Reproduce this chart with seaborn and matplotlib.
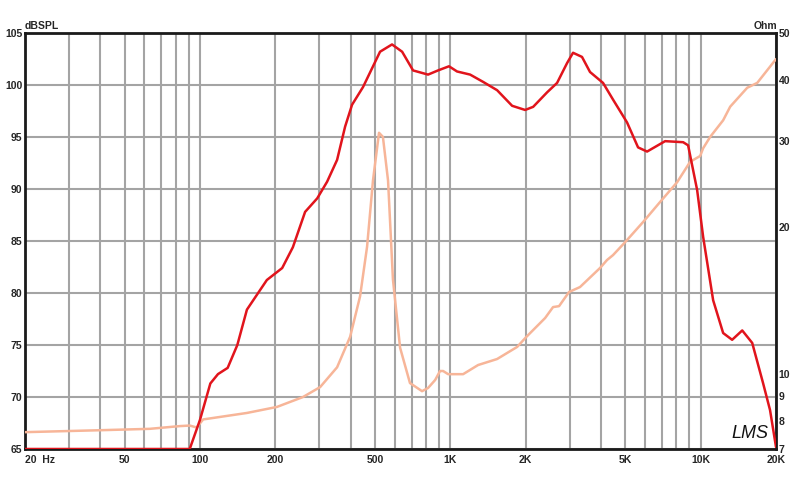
import matplotlib
matplotlib.use("Agg")
import matplotlib.pyplot as plt
import seaborn as sns
from matplotlib.ticker import NullLocator

# SPL response (dB)
spl_freq = [20, 91, 100, 110, 118, 129, 141, 154, 185, 213, 235, 263, 294, 322, 353, 380,
            405, 448, 524, 585, 642, 710, 815, 893, 988, 1064, 1200, 1352, 1538, 1766,
            1990, 2143, 2437, 2670, 2926, 3092, 3358, 3615, 4075, 4466, 5082, 5624, 6110,
            7212, 8512, 8912, 9683, 10233, 11220, 12300, 13360, 14660, 16070, 17750,
            18930, 20000]
spl_db = [65, 65, 67.8, 71.3, 72.2, 72.8, 75.0, 78.4, 81.25, 82.4, 84.4, 87.8, 89.1, 90.7,
          92.8, 96.0, 98.1, 99.8, 103.2, 103.9, 103.2, 101.4, 101.0, 101.4, 101.8, 101.3,
          101.0, 100.3, 99.5, 98.0, 97.6, 97.9, 99.3, 100.2, 102.1, 103.1, 102.7, 101.25,
          100.2, 98.6, 96.4, 94.0, 93.6, 94.6, 94.5, 94.2, 89.9, 85.4, 79.3, 76.15, 75.5,
          76.4, 75.2, 71.35, 68.75, 65.2]

# Impedance (Ohm)
imp_freq = [20, 40, 63, 83, 91, 97, 103, 154, 203, 258, 302, 353, 398, 436, 465, 491, 519,
            538, 564, 590, 630, 690, 771, 815, 870, 910, 936, 980, 1125, 1291, 1538, 1849,
            2009, 2392, 2573, 2719, 2980, 3297, 3965, 4227, 4466, 4990, 5888, 6888, 8054,
            9078, 9954, 10233, 10916, 12300, 13124, 15350, 16830, 20000]
imp_ohm = [7.58, 7.65, 7.7, 7.8, 7.82, 7.75, 8.05, 8.3, 8.54, 8.95, 9.38, 10.3, 11.9, 14.4,
           18.2, 24.9, 31.2, 30.6, 24.9, 15.6, 11.3, 9.56, 9.2, 9.34, 9.7, 10.12, 10.12,
           9.97, 9.97, 10.41, 10.71, 11.34, 11.88, 13.0, 13.69, 13.75, 14.7, 15.05, 16.47,
           17.1, 17.5, 18.6, 20.46, 22.5, 24.7, 27.2, 27.96, 29.0, 30.6, 33.1, 35.3, 38.6,
           39.5, 44.2]

# Axis ticks
grid_freqs = [20, 30, 40, 50, 60, 70, 80, 90, 100, 200, 300, 400, 500, 600, 700, 800, 900,
              1000, 2000, 3000, 4000, 5000, 6000, 7000, 8000, 9000, 10000, 20000]
freq_labels = {20: "20  Hz", 50: "50", 100: "100", 200: "200", 500: "500", 1000: "1K",
               2000: "2K", 5000: "5K", 10000: "10K", 20000: "20K"}
db_ticks = [65, 70, 75, 80, 85, 90, 95, 100, 105]
ohm_ticks = [7, 8, 9, 10, 20, 30, 40, 50]

sns.set_style("white")
plt.rcParams["font.family"] = ["Liberation Sans", "DejaVu Sans"]

red = "#e1141c"
salmon = "#f7b598"
grid_gray = "#a4a4a4"
lbl = dict(fontsize=7.5, fontweight="bold")

fig = plt.figure(figsize=(8, 4.84), dpi=100)
ax = fig.add_axes([25 / 800, 35 / 484, 751 / 800, 416 / 484])
ax2 = ax.twinx()   # impedance
ax3 = ax.twinx()   # SPL on top

sns.lineplot(x=imp_freq, y=imp_ohm, ax=ax2, color=salmon, linewidth=1.8)
sns.lineplot(x=spl_freq, y=spl_db, ax=ax3, color=red, linewidth=1.8)

for a in (ax, ax2, ax3):
    a.set_xscale("log")
    a.set_xlim(20, 20000)
    a.xaxis.set_minor_locator(NullLocator())
    a.set_xlabel("")
    a.set_ylabel("")

ax.set_ylim(65, 105)
ax3.set_ylim(65, 105)
ax3.set_yticks([])
ax2.set_yscale("log")
ax2.set_ylim(7, 50)
ax2.yaxis.set_minor_locator(NullLocator())
ax2.set_yticks(ohm_ticks)
ax2.set_yticklabels([str(t) for t in ohm_ticks], **lbl)

ax.set_xticks(grid_freqs)
ax.set_xticklabels([freq_labels.get(f, "") for f in grid_freqs], **lbl)
ax.get_xticklabels()[0].set_ha("left")
ax.set_yticks(db_ticks)
ax.set_yticklabels([str(t) for t in db_ticks], **lbl)
ax.grid(True, color=grid_gray, linewidth=1.5)
ax.set_axisbelow(True)

ax.tick_params(axis="y", length=0, pad=2)
ax.tick_params(axis="x", length=0, pad=4)
ax2.tick_params(length=0, pad=2)
ax3.tick_params(length=0, labelbottom=False)

for s in ax.spines.values():
    s.set_color("#1a1a1a")
    s.set_linewidth(2)
for a in (ax2, ax3):
    for s in a.spines.values():
        s.set_visible(False)

fig.text(25 / 800, 1 - 26 / 484, "dBSPL", ha="left", va="center", **lbl)
fig.text(777 / 800, 1 - 26 / 484, "Ohm", ha="right", va="center", **lbl)
fig.text(750 / 800, 1 - 434 / 484, "LMS", ha="center", va="center", fontsize=13,
         fontstyle="italic", color="#111111")

fig.savefig("out.png", dpi=100, facecolor="white")
